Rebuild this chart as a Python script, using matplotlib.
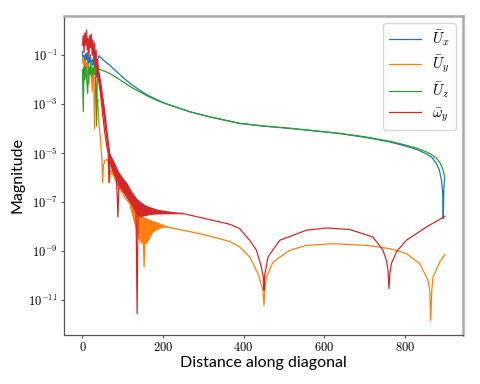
import numpy as np
import matplotlib
matplotlib.use("Agg")
import matplotlib.pyplot as plt
from matplotlib.ticker import FixedLocator, FuncFormatter, NullLocator

plt.rcParams["mathtext.fontset"] = "cm"

# values, stored as log10 exponents
ux_x = [0, 2, 4, 6, 8, 10, 12, 14, 16, 18, 20, 22, 24, 26, 28, 30, 32, 34, 36, 38, 41,
        44, 55, 67.7, 85, 100.7, 120, 142.2, 160, 183.6, 204, 224.8, 266.3, 315.9, 390, 450,
        514, 580, 638, 700, 762, 800, 830, 850, 866, 878, 886, 891, 894, 895.5, 897, 899]
ux_e = [-0.87, -1.3, -1.0, -1.4, -0.95, -1.2, -0.9, -1.5, -1.1, -1.3, -1.0, -1.6, -1.2, -1.4, -1.1, -1.7, -1.3, -1.9, -1.4, -1.2, -1.02,
        -1.08, -1.25, -1.41, -1.68, -1.91, -2.18, -2.43, -2.62, -2.81, -2.96, -3.08, -3.31, -3.52, -3.79, -3.9,
        -3.99, -4.1, -4.2, -4.35, -4.54, -4.7, -4.85, -5.0, -5.15, -5.4, -5.7, -6.1, -6.6, -7.66, -6.4, -6.02]

uz_x = [0, 2, 4, 6, 8, 10, 13, 15, 18, 20, 23, 26, 29, 31, 33, 35, 37, 39, 41.2,
        55, 67.7, 85, 100.7, 120, 142.2, 160, 183.6, 204, 224.8, 266, 316, 390, 450,
        514, 580, 638, 700, 762, 800, 830, 850, 866, 878, 886, 892, 896, 899]
uz_e = [-1.6, -3.3, -1.5, -2.0, -1.4, -1.9, -2.56, -1.5, -1.8, -1.3, -1.9, -1.5, -1.8, -1.4, -2.2, -3.9, -1.8, -1.6, -1.57,
        -1.66, -1.75, -1.92, -2.09, -2.3, -2.5, -2.66, -2.84, -2.97, -3.08, -3.31, -3.52, -3.78, -3.89,
        -3.98, -4.09, -4.19, -4.33, -4.51, -4.66, -4.8, -4.92, -5.05, -5.2, -5.35, -5.55, -5.75, -5.97]

uy_x = [0, 2, 4, 6, 8, 10, 12, 14, 16, 18, 20, 22, 24, 26, 28, 30, 32, 34, 36, 38, 40,
        44, 48, 50, 52, 56, 60, 64, 67, 70, 80, 92, 105, 117, 125, 135, 142, 150, 153, 156,
        165, 192, 208, 225, 291, 366, 390, 415, 435.7, 448, 450.6, 453, 456.6, 473, 514,
        556, 622, 705, 762, 804, 837, 857.6, 862, 864.3, 867, 870, 886.6, 900]
uy_e = [-1.3, -1.1, -1.6, -1.2, -1.8, -1.3, -1.9, -1.4, -2.2, -1.5, -1.8, -1.3, -2.5, -1.6, -2.0, -4.0, -1.9, -2.5, -3.2, -2.8, -3.6,
        -4.3, -5.2, -6.2, -5.5, -5.3, -5.25, -5.35, -6.2, -5.7, -6.0, -6.4, -6.8, -7.05, -7.3, -7.6, -7.8, -8.0, -9.64, -8.1,
        -7.9, -7.95, -8.0, -8.06, -8.28, -8.6, -8.82, -9.23, -9.91, -10.59, -11.2, -10.5, -10.05, -9.44, -8.96,
        -8.76, -8.69, -8.76, -8.89, -9.09, -9.5, -10.18, -10.6, -11.82, -10.6, -10.05, -9.44, -9.12]

wy_x = [0, 2, 4, 6, 8, 10, 12, 14, 16, 18, 20, 22, 24, 26, 28, 30, 32, 34, 36, 38, 40,
        45, 50, 55, 60, 64, 66, 68, 76, 84, 88, 91, 100, 110, 120, 128, 133, 135.6, 138, 145,
        160, 185, 210, 250, 300, 366, 390, 415, 432, 444, 449, 450.6, 452, 460.5, 489.6,
        555.8, 605.5, 663.3, 721, 746, 755, 758.3, 760.8, 763, 766.7, 780, 804, 853.6, 900]
wy_e = [-0.6, -0.2, -0.9, -0.1, -0.6, 0.02, -0.8, -0.3, -1.1, -0.2, -0.7, -0.15, -1.0, -0.4, -1.3, -0.5, -1.5, -0.8, -1.9, -1.2, -2.0,
        -2.6, -3.4, -4.1, -4.7, -5.0, -6.2, -5.2, -5.4, -5.8, -7.6, -6.0, -6.3, -6.5, -6.8, -7.0, -7.3, -11.54, -7.4, -7.3,
        -7.3, -7.35, -7.42, -7.46, -7.65, -7.9, -8.07, -8.55, -8.96, -9.64, -10.1, -10.59, -10.0, -9.23, -8.55,
        -8.14, -8.05, -8.11, -8.42, -8.96, -9.4, -9.78, -10.52, -9.9, -9.5, -9.0, -8.55, -8.01, -7.57]

# dense oscillation bands (upper / lower envelopes)
wy_band_x = [36, 45, 55, 62, 68, 80, 88, 100, 110, 120, 128, 135, 142, 155, 167, 185, 204, 230, 250]
wy_band_hi = [-1.2, -2.0, -3.2, -4.2, -5.0, -5.4, -5.7, -6.0, -6.2, -6.5, -6.7, -6.85, -6.95, -7.1, -7.18, -7.28, -7.33, -7.4, -7.46]
wy_band_lo = [-1.6, -2.8, -4.0, -4.9, -5.5, -6.1, -6.4, -6.6, -6.85, -7.1, -7.35, -7.5, -7.6, -7.55, -7.5, -7.48, -7.47, -7.47, -7.47]

uy_band_x = [117, 125, 135, 142, 150, 159, 175, 192, 208, 225]
uy_band_hi = [-7.0, -7.15, -7.35, -7.5, -7.6, -7.65, -7.75, -7.85, -7.95, -8.05]
uy_band_lo = [-7.2, -7.7, -8.3, -8.6, -8.7, -8.67, -8.2, -8.05, -8.0, -8.07]

labels = [r"$\bar{U}_x$", r"$\bar{U}_y$", r"$\bar{U}_z$", r"$\bar{\omega}_y$"]
x_ticks = [0, 200, 400, 600, 800]
y_tick_exp = [-11, -9, -7, -5, -3, -1]


def p(e):
    return 10.0 ** np.array(e)


fig = plt.figure(figsize=(4.8, 3.84), dpi=100)
ax = fig.add_axes([0.134, 0.1276, 0.831, 0.832])

lw = 0.9
ax.plot(ux_x, p(ux_e), color="C0", lw=lw, label=labels[0])
ax.plot(uy_x, p(uy_e), color="C1", lw=lw, label=labels[1])
ax.fill_between(uy_band_x, p(uy_band_lo), p(uy_band_hi), color="C1", lw=0)
ax.plot(uz_x, p(uz_e), color="C2", lw=lw, label=labels[2])
ax.plot(wy_x, p(wy_e), color="C3", lw=lw, label=labels[3])
ax.fill_between(wy_band_x, p(wy_band_lo), p(wy_band_hi), color="C3", lw=0)

ax.set_yscale("log")
ax.yaxis.set_major_locator(FixedLocator([10.0 ** e for e in y_tick_exp]))
ax.yaxis.set_minor_locator(NullLocator())
ax.yaxis.set_major_formatter(FuncFormatter(lambda v, pos: r"$10^{%d}$" % round(np.log10(v))))
ax.xaxis.set_major_locator(FixedLocator(x_ticks))
ax.xaxis.set_major_formatter(FuncFormatter(lambda v, pos: r"$%d$" % v))
ax.tick_params(labelsize=9, length=2, pad=2.5, color="#555555")

for s in ["left", "bottom"]:
    ax.spines[s].set_color("#555555")
    ax.spines[s].set_linewidth(0.9)
for s in ["top", "right"]:
    ax.spines[s].set_color("#aaaaaa")
    ax.spines[s].set_linewidth(1.8)

ax.set_xlabel("Distance along diagonal", fontsize=11.5, family="Lato", labelpad=1)
ax.set_ylabel("Magnitude", fontsize=11.5, family="Lato", labelpad=3)

ax.legend(loc="upper right", fontsize=10.5, labelspacing=0.35, handlelength=2.2,
          handletextpad=0.75)

fig.savefig("out.png", dpi=100)
